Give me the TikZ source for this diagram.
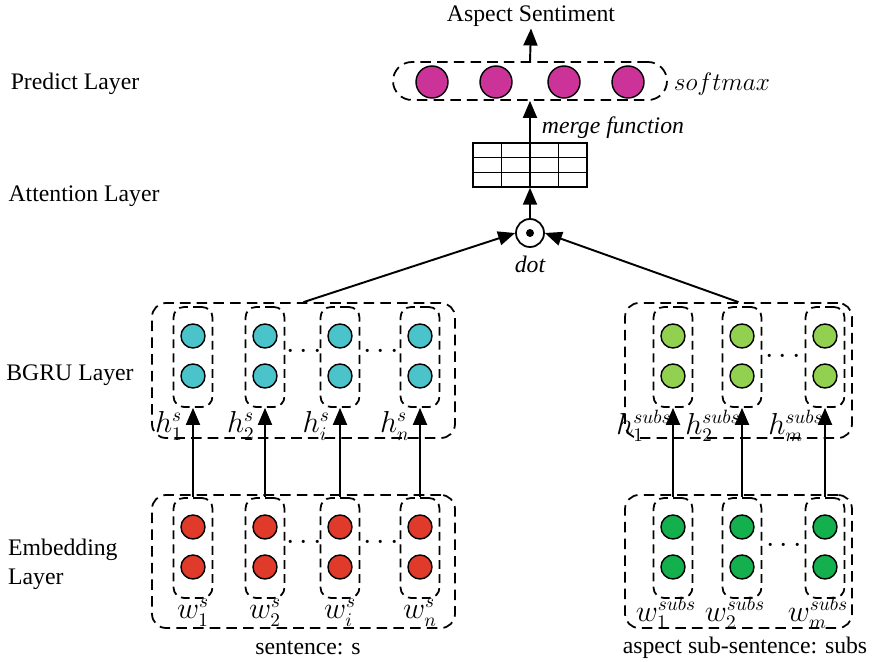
\documentclass[tikz,border=0pt]{standalone}
\usepackage{fontspec}
\setmainfont{Liberation Serif}
\usetikzlibrary{arrows.meta,positioning}

\definecolor{softpink}{RGB}{204,51,153}
\definecolor{gruteal}{RGB}{75,195,203}
\definecolor{grulime}{RGB}{146,208,80}
\definecolor{embred}{RGB}{224,58,42}
\definecolor{embgreen}{RGB}{19,176,77}

\tikzset{
  outerbox/.style={draw, rounded corners=8pt, line width=1pt, dash pattern=on 6pt off 3.5pt},
  unitbox/.style={draw, rounded corners=6pt, line width=1pt, dash pattern=on 5pt off 3pt,
    minimum width=7.8mm, minimum height=20mm},
  neuron/.style={draw, circle, line width=0.8pt, minimum size=4.8mm, inner sep=0pt},
  flow/.style={line width=1.1pt, -{Triangle[length=3.4mm,width=2.8mm]}},
  layername/.style={font=\fontsize{13.5}{16.5}\selectfont, align=left},
  plain/.style={font=\fontsize{13.5}{16}\selectfont, inner sep=1pt},
  mathlabel/.style={font=\fontsize{16}{18}\selectfont, inner sep=0pt},
}

\begin{document}
\begin{tikzpicture}[x=0.2mm, y=-0.2mm]
  \useasboundingbox (0,0) rectangle (874,662);

  % layer names on the left
  \node (lpred) [layername] at (75,84) {Predict Layer};
  \node (latt) [layername] at (84,196) {Attention Layer};
  \node (lgru) [layername] at (70,375) {BGRU Layer};
  \node (lemb) [layername, anchor=west] at (2,564) {Embedding\\Layer};

  % outer dashed boxes
  \node (semb) [outerbox, minimum width=60.6mm, minimum height=26.6mm] at (303.5,561.5) {};
  \node (sgru) [outerbox, minimum width=60.6mm, minimum height=27mm] at (303.5,370.5) {};
  \node (aemb) [outerbox, minimum width=45.4mm, minimum height=26.6mm] at (738.5,561.5) {};
  \node (agru) [outerbox, minimum width=45.4mm, minimum height=27mm] at (738.5,370.5) {};

  % sentence columns
  \foreach \cx/\k/\sub in {193/1/1, 265/2/2, 340/3/i, 420/4/n} {
    \node (sw\k) [unitbox] at (\cx,548) {};
    \node (sw\k a) [neuron, fill=embred] at (\cx,527) {};
    \node (sw\k b) [neuron, fill=embred] at (\cx,567) {};
    \node (sw\k l) [mathlabel] at (\cx,613) {$w^{s}_{\sub}$};
    \node (sh\k) [unitbox] at (\cx,357) {};
    \node (sh\k a) [neuron, fill=gruteal] at (\cx,336) {};
    \node (sh\k b) [neuron, fill=gruteal] at (\cx,376) {};
    \node (sh\k l) [mathlabel, anchor=east] at (\cx-10,426) {$h^{s}_{\sub}$};
    \draw[flow] (sw\k) -- (sh\k);
  }

  % aspect columns
  \foreach \cx/\k/\sub in {673/1/1, 742/2/2, 825/3/m} {
    \node (aw\k) [unitbox] at (\cx,548) {};
    \node (aw\k a) [neuron, fill=embgreen] at (\cx,527) {};
    \node (aw\k b) [neuron, fill=embgreen] at (\cx,567) {};
    \node (aw\k l) [mathlabel] at (\cx-7,613) {$w^{subs}_{\sub}$};
    \node (ah\k) [unitbox] at (\cx,357) {};
    \node (ah\k a) [neuron, fill=grulime] at (\cx,336) {};
    \node (ah\k b) [neuron, fill=grulime] at (\cx,376) {};
    \node (ah\k l) [mathlabel, anchor=east] at (\cx-1,426) {$h^{subs}_{\sub}$};
    \draw[flow] (aw\k) -- (ah\k);
  }

  % ellipses between columns
  \node (sgdots1) [mathlabel] at (304,352) {$\cdots$};
  \node (sgdots2) [mathlabel] at (381,352) {$\cdots$};
  \node (sedots1) [mathlabel] at (304,543) {$\cdots$};
  \node (sedots2) [mathlabel] at (381,543) {$\cdots$};
  \node (agdots) [mathlabel] at (783,357) {$\cdots$};
  \node (aedots) [mathlabel] at (784,546) {$\cdots$};

  \node (scap) [plain] at (308,648) {sentence: s};
  \node (acap) [plain] at (745,648) {aspect sub-sentence: subs};

  % attention
  \node (dot) [draw, circle, line width=1pt, minimum size=5.6mm, inner sep=0pt] at (530,233) {};
  \fill (dot.center) circle (4);
  \node (dotl) [plain, font=\fontsize{13.5}{16}\selectfont\itshape] at (530,264) {dot};
  \draw[flow] (sgru.north) -- (dot.west);
  \draw[flow] (agru.north) -- (dot.east);

  \node (merge) [draw, line width=0.8pt, minimum width=22.8mm, minimum height=8.8mm, inner sep=0pt] at (530,165) {};
  \foreach \gx in {501.5,530,558.5}
    \draw[line width=0.8pt] (\gx,143) -- (\gx,187);
  \foreach \gy in {157.7,172.3}
    \draw[line width=0.8pt] (473,\gy) -- (587,\gy);
  \draw[flow] (dot.north) -- (merge.south);

  % predict layer
  \node (sm) [outerbox, rounded corners=3.8mm, minimum width=54.8mm, minimum height=7.6mm] at (530,81) {};
  \foreach \cx/\k in {432/1, 496/2, 564/3, 628/4}
    \node (p\k) [neuron, fill=softpink, minimum size=6.4mm] at (\cx,82) {};
  \node (sml) [mathlabel, font=\fontsize{14.5}{16}\selectfont] at (722,84) {$softmax$};
  \draw[flow] (merge.north) -- (sm.south);
  \node (mfl) [plain, font=\fontsize{13.5}{16}\selectfont\itshape] at (613,128) {merge function};

  \node (sent) [plain] at (531,16) {Aspect Sentiment};
  \draw[flow] (sm.north) -- (sent.south);
\end{tikzpicture}
\end{document}
